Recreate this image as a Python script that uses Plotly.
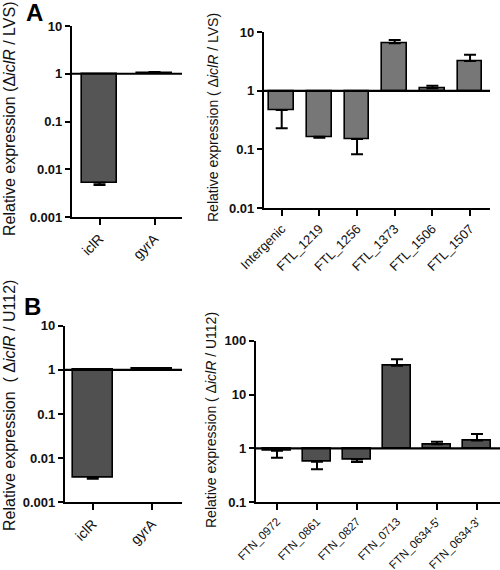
import plotly.graph_objects as go

# ---- data ----
a1_cats = ["iclR", "gyrA"]
a1_vals = [0.0052, 1.05]
a1_err = [0.0047, 1.09]

a2_cats = ["Intergenic", "FTL_1219", "FTL_1256", "FTL_1373", "FTL_1506", "FTL_1507"]
a2_vals = [0.47, 0.164, 0.15, 6.5, 1.11, 3.24]
a2_err = [0.23, 0.158, 0.083, 7.4, 1.22, 4.15]

b1_cats = ["iclR", "gyrA"]
b1_vals = [0.0037, 1.06]
b1_err = [0.0034, 1.09]

b2_cats = ["FTN_0972", "FTN_0861", "FTN_0827", "FTN_0713", "FTN_0634-5'", "FTN_0634-3'"]
b2_vals = [0.905, 0.566, 0.625, 34.2, 1.19, 1.41]
b2_err = [0.67, 0.41, 0.557, 45.4, 1.33, 1.85]

a1_ticks = [0.001, 0.01, 0.1, 1, 10]
a1_ticktext = ["0.001", "0.01", "0.1", "1", "10"]
a2_ticks = [0.01, 0.1, 1, 10]
a2_ticktext = ["0.01", "0.1", "1", "10"]
b1_ticks = [0.001, 0.01, 0.1, 1, 10]
b1_ticktext = ["0.001", "0.01", "0.1", "1", "10"]
b2_ticks = [0.1, 1, 10, 100]
b2_ticktext = ["0.1", "1", "10", "100"]

FONT = "Liberation Sans, Arial, sans-serif"
W, H = 500, 570

fig = go.Figure()

panels = [
    (a1_cats, a1_vals, a1_err, "#555555", 0.64, "x", "y"),
    (a2_cats, a2_vals, a2_err, "#777777", 0.66, "x2", "y2"),
    (b1_cats, b1_vals, b1_err, "#505050", 0.68, "x3", "y3"),
    (b2_cats, b2_vals, b2_err, "#505050", 0.68, "x4", "y4"),
]

for cats, vals, errs, col, bw, xa, ya in panels:
    fig.add_trace(go.Bar(
        x=cats, y=[v - 1 for v in vals], base=1, width=bw,
        marker=dict(color=col, line=dict(color="black", width=1.6)),
        xaxis=xa, yaxis=ya, showlegend=False, hoverinfo="skip",
    ))
    up = [max(e - v, 0) for v, e in zip(vals, errs)]
    dn = [max(v - e, 0) for v, e in zip(vals, errs)]
    fig.add_trace(go.Scatter(
        x=cats, y=vals, mode="markers",
        marker=dict(color="rgba(0,0,0,0)", size=1),
        error_y=dict(type="data", symmetric=False, array=up, arrayminus=dn,
                     color="black", thickness=2, width=6),
        xaxis=xa, yaxis=ya, showlegend=False, hoverinfo="skip",
    ))

def px_x(p):
    return p / W

def px_y(p):
    return 1 - p / H

def bold(lst):
    return [f"<b>{t}</b>" for t in lst]

def xax(size, **kw):
    d = dict(type="category", showline=True, linewidth=2.2, linecolor="black",
             ticks="outside", ticklen=6, tickwidth=2, tickcolor="black",
             tickangle=-45, tickfont=dict(family=FONT, size=size, color="#111"),
             showgrid=False, zeroline=False, automargin=False)
    d.update(kw)
    return d

def yax(**kw):
    d = dict(type="log", showline=True, linewidth=2.2, linecolor="black",
             ticks="outside", ticklen=5, tickwidth=2, tickcolor="black",
             tickfont=dict(family=FONT, size=13, color="#111"),
             showgrid=False, zeroline=False, automargin=False)
    d.update(kw)
    return d

fig.update_layout(
    width=W, height=H, margin=dict(l=0, r=0, t=0, b=0, autoexpand=False),
    paper_bgcolor="white", plot_bgcolor="white", bargap=0,
    xaxis=xax(14, domain=[px_x(72), px_x(182)], range=[-0.5, 1.5], anchor="y"),
    yaxis=yax(domain=[px_y(217), px_y(26)], range=[-3, 1], anchor="x",
              tickvals=a1_ticks, ticktext=bold(a1_ticktext)),
    xaxis2=xax(13, domain=[px_x(264), px_x(490)], range=[-0.47, 5.53], anchor="y2"),
    yaxis2=yax(domain=[px_y(208), px_y(32.3)], range=[-2, 1], anchor="x2",
               tickvals=a2_ticks, ticktext=bold(a2_ticktext)),
    xaxis3=xax(14, domain=[px_x(65), px_x(182)], range=[-0.47, 1.51], anchor="y3"),
    yaxis3=yax(domain=[px_y(502.3), px_y(325.7)], range=[-3, 1], anchor="x3",
               tickvals=b1_ticks, ticktext=bold(b1_ticktext)),
    xaxis4=xax(11.5, domain=[px_x(256), 1.0], range=[-0.525, 5.575], anchor="y4"),
    yaxis4=yax(domain=[px_y(502.3), px_y(340.7)], range=[-1, 2], anchor="x4",
               tickvals=b2_ticks, ticktext=bold(b2_ticktext)),
)

# reference line at 1
for xa, ya in [("x", "y"), ("x2", "y2"), ("x3", "y3"), ("x4", "y4")]:
    fig.add_shape(type="line", xref=f"{xa} domain", x0=0, x1=1, yref=ya, y0=1, y1=1,
                  line=dict(color="black", width=2.2), layer="above")

titles = [
    ("Relative expression (Δ<i>iclR</i> / LVS)", 10, 119, 16),
    ("Relative expression ( Δ<i>iclR</i> / LVS)", 213, 118, 14),
    ("Relative expression  ( Δ<i>iclR</i> / U112)", 9, 406, 16),
    ("Relative expression ( Δ<i>iclR</i> / U112)", 211, 420, 14),
]
for txt, x, y, s in titles:
    fig.add_annotation(text=txt, x=px_x(x), y=px_y(y), xref="paper", yref="paper",
                       textangle=-90, showarrow=False, xanchor="center", yanchor="middle",
                       font=dict(family=FONT, size=s, color="#111"))

for lab, x, y in [("A", 34, 13), ("B", 32, 306)]:
    fig.add_annotation(text=f"<b>{lab}</b>", x=px_x(x), y=px_y(y), xref="paper", yref="paper",
                       showarrow=False, xanchor="center", yanchor="middle",
                       font=dict(family=FONT, size=24, color="black"))

fig.write_html("out.html", config={"displayModeBar": False},
               post_script="document.body.style.margin='0px';document.body.style.overflow='hidden';")
